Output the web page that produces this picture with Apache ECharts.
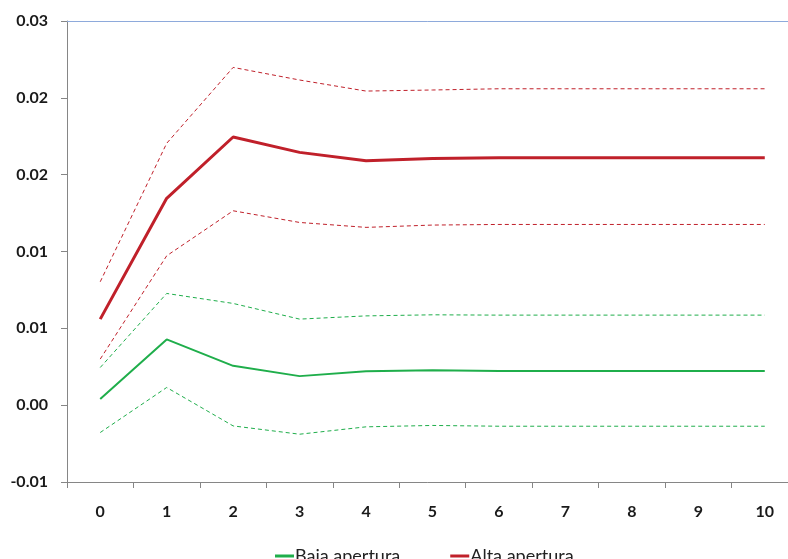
<!DOCTYPE html>
<html>
<head>
<meta charset="utf-8">
<script src="https://cdn.jsdelivr.net/npm/echarts@6/dist/echarts.min.js"></script>
<style>html,body{margin:0;padding:0;background:#fff;}#chart{width:788px;height:559px;}</style>
</head>
<body>
<div id="chart"></div>
<script>
const categories = ['0','1','2','3','4','5','6','7','8','9','10'];
const yTickLabels = ['-0.01','0.00','0.01','0.01','0.02','0.02','0.03'];
const bajaCentral = [0.0004, 0.00428, 0.00256, 0.00189, 0.00221, 0.00228, 0.00223, 0.00223, 0.00223, 0.00223, 0.00223];
const bajaUpper = [0.00245, 0.00727, 0.00662, 0.0056, 0.00581, 0.00588, 0.00586, 0.00586, 0.00586, 0.00586, 0.00586];
const bajaLower = [-0.00178, 0.00115, -0.00135, -0.00189, -0.00141, -0.00132, -0.00137, -0.00137, -0.00137, -0.00137, -0.00137];
const altaCentral = [0.0056, 0.01346, 0.01745, 0.01645, 0.0159, 0.01606, 0.0161, 0.0161, 0.0161, 0.0161, 0.0161];
const altaUpper = [0.00803, 0.01704, 0.02198, 0.02116, 0.02044, 0.02051, 0.02059, 0.02059, 0.02059, 0.02059, 0.02059];
const altaLower = [0.0030, 0.00972, 0.01265, 0.01189, 0.01157, 0.01172, 0.01176, 0.01176, 0.01176, 0.01176, 0.01176];

const GREEN = '#1fae4b';
const RED = '#c0202a';
const FONT = 'Lato';

function dashed(name, data, color) {
  return {
    name: name, type: 'line', data: data, symbol: 'none', silent: true,
    lineStyle: { color: color, width: 1, type: [4, 3] }, z: 2
  };
}

const chart = echarts.init(document.getElementById('chart'), null, { renderer: 'canvas' });
chart.setOption({
  animation: false,
  backgroundColor: '#fff',
  grid: { left: 67, top: 21, width: 731, height: 461, containLabel: false, outerBoundsMode: 'none' },
  legend: {
    data: ['Baja apertura', 'Alta apertura'],
    left: 270, top: 542,
    icon: 'rect', itemWidth: 19, itemHeight: 3, itemGap: 50,
    textStyle: { fontFamily: FONT, fontSize: 18, color: '#222', padding: [0, 0, 0, -4] }
  },
  xAxis: [{
    type: 'category', data: categories, boundaryGap: true,
    axisLine: { onZero: false, lineStyle: { color: '#868686', width: 1 } },
    axisTick: { show: true, length: 6, lineStyle: { color: '#868686' } },
    axisLabel: { margin: 22, fontFamily: FONT, fontWeight: 'bold', fontSize: 16, color: '#1a1a1a' },
    splitLine: { show: false }
  }, {
    type: 'category', data: categories, position: 'top',
    axisLine: { show: true, onZero: false, lineStyle: { color: '#8eaadb', width: 1 } },
    axisTick: { show: false }, axisLabel: { show: false }, splitLine: { show: false }
  }],
  yAxis: {
    type: 'value', min: -0.005, max: 0.025, interval: 0.005,
    axisLine: { show: true, lineStyle: { color: '#868686', width: 1 } },
    axisTick: { show: true, length: 6, lineStyle: { color: '#868686' } },
    axisLabel: {
      margin: 19, fontFamily: FONT, fontWeight: 'bold', fontSize: 16, color: '#1a1a1a',
      formatter: function (v) { return yTickLabels[Math.round((v + 0.005) / 0.005)]; }
    },
    splitLine: { show: false }
  },
  series: [
    dashed('Baja sup', bajaUpper, GREEN),
    dashed('Baja inf', bajaLower, GREEN),
    { name: 'Baja apertura', type: 'line', data: bajaCentral, symbol: 'none', lineStyle: { color: GREEN, width: 2 }, itemStyle: { color: GREEN }, z: 3 },
    dashed('Alta sup', altaUpper, RED),
    dashed('Alta inf', altaLower, RED),
    { name: 'Alta apertura', type: 'line', data: altaCentral, symbol: 'none', lineStyle: { color: RED, width: 3 }, itemStyle: { color: RED }, z: 4 }
  ]
});
</script>
</body>
</html>
